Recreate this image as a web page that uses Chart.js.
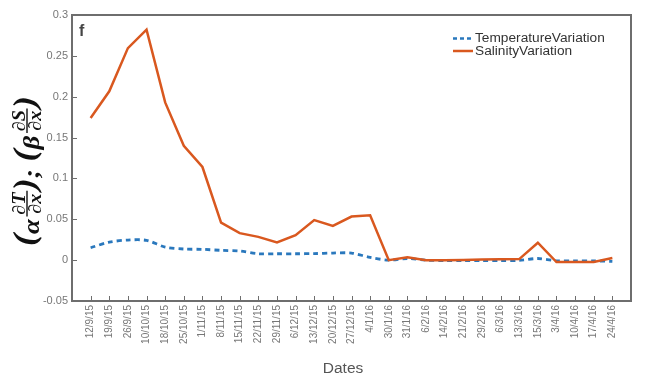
<!DOCTYPE html>
<html>
<head>
<meta charset="utf-8">
<script src="https://cdn.jsdelivr.net/npm/chart.js@4/dist/chart.umd.min.js"></script>
<style>
  html, body { margin: 0; padding: 0; background: #fff; }
  #wrap { width: 646px; height: 381px; position: relative; }
</style>
</head>
<body>
<div id="wrap"><canvas id="chart" width="646" height="381"></canvas></div>
<script>
// Sampling dates (x categories)
const dateLabels = ['12/9/15', '19/9/15', '26/9/15', '10/10/15', '18/10/15', '25/10/15', '1/11/15',
  '8/11/15', '15/11/15', '22/11/15', '29/11/15', '6/12/15', '13/12/15', '20/12/15', '27/12/15',
  '4/1/16', '30/1/16', '31/1/16', '6/2/16', '14/2/16', '21/2/16', '29/2/16', '6/3/16', '13/3/16',
  '15/3/16', '3/4/16', '10/4/16', '17/4/16', '24/4/16'];

// alpha * dT/dx
const temperatureVariation = [0.0152, 0.0220, 0.0246, 0.0242, 0.0160, 0.0136, 0.0132, 0.0120,
  0.0111, 0.0078, 0.0078, 0.0078, 0.0080, 0.0087, 0.0087, 0.0034, 0.0000, 0.0020, 0.0000,
  -0.0005, -0.0005, -0.0005, -0.0005, -0.0003, 0.0020, -0.0008, -0.0010, -0.0010, -0.0015];

// beta * dS/dx
const salinityVariation = [0.174, 0.2066, 0.2595, 0.282, 0.193, 0.140, 0.114, 0.046, 0.033,
  0.0285, 0.0216, 0.0306, 0.049, 0.042, 0.0534, 0.055, 0.0, 0.0034, 0.0, 0.0, 0.0002, 0.0008,
  0.001, 0.0013, 0.0213, -0.0023, -0.0023, -0.0023, 0.0026];

const yTickValues = [-0.05, 0, 0.05, 0.1, 0.15, 0.2, 0.25, 0.3];
const yTickLabels = ['-0.05', '0', '0.05', '0.1', '0.15', '0.2', '0.25', '0.3'];

const seriesNames = ['TemperatureVariation', 'SalinityVariation'];
const BLUE = '#2a78bd';
const ORANGE = '#d9581f';
const FRAME = '#6e6e6e';

const toPoints = arr => arr.map((v, i) => ({ x: i, y: v }));

// Frame, inward ticks, panel letter, legend and axis titles
const decorations = {
  id: 'decorations',
  afterDraw(chart) {
    const ctx = chart.ctx;
    const a = chart.chartArea;
    const xs = chart.scales.x, ys = chart.scales.y;
    ctx.save();

    // inward tick marks
    ctx.strokeStyle = FRAME;
    ctx.lineWidth = 1;
    yTickValues.forEach(v => {
      const py = Math.round(ys.getPixelForValue(v)) + 0.5;
      ctx.beginPath(); ctx.moveTo(a.left, py); ctx.lineTo(a.left + 5, py); ctx.stroke();
    });
    dateLabels.forEach((_, i) => {
      const px = Math.round(xs.getPixelForValue(i)) + 0.5;
      ctx.beginPath(); ctx.moveTo(px, a.bottom); ctx.lineTo(px, a.bottom - 5); ctx.stroke();
    });

    // box
    ctx.lineWidth = 2;
    ctx.strokeRect(a.left, a.top, a.right - a.left, a.bottom - a.top);

    // panel letter
    ctx.fillStyle = '#444';
    ctx.font = 'bold 16px "Liberation Sans", Arial, sans-serif';
    ctx.textAlign = 'left';
    ctx.textBaseline = 'alphabetic';
    ctx.fillText('f', a.left + 7, a.top + 21);

    // legend
    const lx = 453, lw = 20;
    const rows = [38.5, 51];
    ctx.font = '13.7px "Liberation Sans", Arial, sans-serif';
    ctx.textBaseline = 'middle';
    ctx.lineWidth = 2.5;
    ctx.strokeStyle = BLUE; ctx.setLineDash([4, 3]);
    ctx.beginPath(); ctx.moveTo(lx, rows[0]); ctx.lineTo(lx + lw, rows[0]); ctx.stroke();
    ctx.strokeStyle = ORANGE; ctx.setLineDash([]);
    ctx.beginPath(); ctx.moveTo(lx, rows[1]); ctx.lineTo(lx + lw, rows[1]); ctx.stroke();
    ctx.fillStyle = '#333';
    ctx.fillText(seriesNames[0], lx + lw + 2, rows[0]);
    ctx.fillText(seriesNames[1], lx + lw + 2, rows[1]);

    // x axis title
    ctx.fillStyle = '#555';
    ctx.font = '15.5px "Liberation Sans", Arial, sans-serif';
    ctx.textAlign = 'center';
    ctx.textBaseline = 'alphabetic';
    ctx.fillText('Dates', 343, 373);

    // y axis title: (α ∂T/∂x); (β ∂S/∂x)
    drawYTitle(ctx, 27, 171);
    ctx.restore();
  }
};

function drawYTitle(ctx, cx, cy) {
  const serif = '"Liberation Serif", "DejaVu Serif", serif';
  const fMain = 'bold italic 24px ' + serif;
  const fParen = 'bold italic 32px ' + serif;
  const fFrac = 'bold italic 18px ' + serif;
  const mainBase = 12, parenBase = 8, barV = 0, numBase = -2, denBase = 13.5;
  const stretch = 1.12;

  const parts = [
    { t: '(', f: fParen, v: parenBase },
    { t: 'α', f: fMain, v: mainBase, after: 2 },
    { frac: ['∂T', '∂x'] },
    { t: ')', f: fParen, v: parenBase },
    { t: ';', f: fMain, v: mainBase, after: 7 },
    { t: '(', f: fParen, v: parenBase },
    { t: 'β', f: fMain, v: mainBase, after: 2 },
    { frac: ['∂S', '∂x'] },
    { t: ')', f: fParen, v: parenBase }
  ];
  // measure
  parts.forEach(p => {
    if (p.frac) {
      ctx.font = fFrac;
      p.w = Math.max(ctx.measureText(p.frac[0]).width, ctx.measureText(p.frac[1]).width) + 4;
    } else {
      ctx.font = p.f;
      p.w = ctx.measureText(p.t).width;
    }
    p.w += (p.after || 0);
  });
  const total = parts.reduce((s, p) => s + p.w, 0);

  ctx.save();
  ctx.translate(cx, cy);
  ctx.rotate(-Math.PI / 2);
  ctx.scale(stretch, 1);
  ctx.fillStyle = '#111';
  ctx.strokeStyle = '#111';
  ctx.textBaseline = 'alphabetic';
  let u = -total / 2;
  parts.forEach(p => {
    if (p.frac) {
      ctx.font = fFrac;
      ctx.textAlign = 'center';
      const mid = u + p.w / 2;
      ctx.fillText(p.frac[0], mid, numBase);
      ctx.fillText(p.frac[1], mid, denBase);
      ctx.lineWidth = 1.4;
      ctx.beginPath(); ctx.moveTo(u + 0.5, barV); ctx.lineTo(u + p.w - 0.5, barV); ctx.stroke();
    } else {
      ctx.font = p.f;
      ctx.textAlign = 'left';
      ctx.fillText(p.t, u, p.v);
    }
    u += p.w;
  });
  ctx.restore();
}

new Chart(document.getElementById('chart'), {
  type: 'line',
  data: {
    datasets: [
      {
        label: seriesNames[0],
        data: toPoints(temperatureVariation),
        borderColor: BLUE,
        borderWidth: 2.8,
        borderDash: [5, 4],
        tension: 0.3,
        pointRadius: 0,
        fill: false,
        order: 1
      },
      {
        label: seriesNames[1],
        data: toPoints(salinityVariation),
        borderColor: ORANGE,
        borderWidth: 2.5,
        tension: 0,
        pointRadius: 0,
        fill: false,
        order: 0
      }
    ]
  },
  options: {
    responsive: false,
    animation: false,
    layout: { padding: { left: 0, top: 15, right: 15, bottom: 0 } },
    plugins: { legend: { display: false }, tooltip: { enabled: false } },
    scales: {
      x: {
        type: 'linear',
        min: -1,
        max: dateLabels.length,
        afterFit(scale) { scale.height = 80; },
        afterBuildTicks(scale) {
          scale.ticks = dateLabels.map((_, i) => ({ value: i }));
        },
        ticks: {
          autoSkip: false,
          maxRotation: 90,
          minRotation: 90,
          padding: 4,
          color: '#777',
          font: { family: '"Liberation Sans", Arial, sans-serif', size: 10 },
          callback: v => dateLabels[v]
        },
        grid: { display: false, drawTicks: false },
        border: { display: false }
      },
      y: {
        min: -0.05,
        max: 0.3,
        afterFit(scale) { scale.width = 72; },
        afterBuildTicks(scale) {
          scale.ticks = yTickValues.map(v => ({ value: v }));
        },
        ticks: {
          padding: 4,
          color: '#777',
          font: { family: '"Liberation Sans", Arial, sans-serif', size: 11 },
          callback: v => yTickLabels[yTickValues.findIndex(t => Math.abs(t - v) < 1e-9)]
        },
        grid: { display: false, drawTicks: false },
        border: { display: false }
      }
    }
  },
  plugins: [decorations]
});
</script>
</body>
</html>
